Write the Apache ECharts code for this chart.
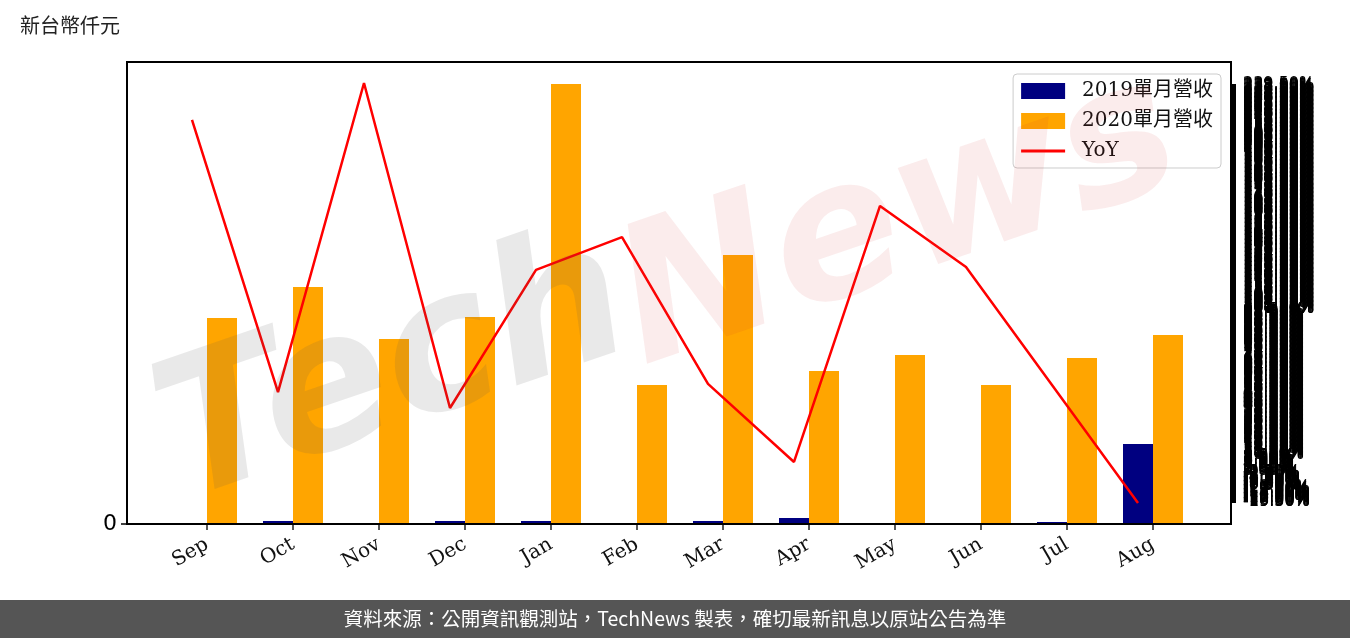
<!DOCTYPE html>
<html>
<head>
<meta charset="utf-8">
<script src="https://cdn.jsdelivr.net/npm/echarts@6/dist/echarts.min.js"></script>
<style>
html,body{margin:0;padding:0;background:#fff;}
#chart{width:1350px;height:638px;}
</style>
</head>
<body>
<div id="chart"></div>
<script>
// ---- data ----
var months = ['Sep','Oct','Nov','Dec','Jan','Feb','Mar','Apr','May','Jun','Jul','Aug'];
var rev2019 = [0, 300, 0, 300, 300, 0, 300, 600, 0, 0, 200, 8000];
var rev2020 = [20600, 23700, 18500, 20700, 44000, 13900, 26900, 15300, 16900, 13900, 16600, 18900];
var yoy = [217.1, 48.6, 240.0, 38.8, 124.3, 144.6, 53.7, 5.4, 163.9, 126.1, 53.0, -20.0];
var leftTickValues = [0];
var seriesNames = ['2019單月營收', '2020單月營收', 'YoY'];

// right-axis tick positions (the reference shows a dense, overlapping stack of labels)
var yoyTickValues = [];
for (var t = -20; t <= 240; t += 0.5) { yoyTickValues.push(t); }

var chart = echarts.init(document.getElementById('chart'), null, {renderer: 'canvas'});

var serif = "'DejaVu Serif', 'Liberation Serif', 'Noto Sans CJK TC', serif";
var sans = "'DejaVu Sans', 'Noto Sans CJK TC', sans-serif";

var option = {
  animation: false,
  backgroundColor: '#ffffff',
  grid: [
    {left: 164, right: 154, top: 62, bottom: 114},            // bars
    {left: 149, right: 169, top: 62, bottom: 114},            // YoY line
    {left: 127, right: 119, top: 62, bottom: 114, show: true, borderColor: '#000', borderWidth: 2, backgroundColor: 'transparent', z: 5} // frame
  ],
  legend: {
    orient: 'vertical',
    right: 129,
    top: 74,
    itemWidth: 44,
    itemHeight: 16,
    itemGap: 10,
    padding: [7, 8, 7, 8],
    borderColor: '#cccccc',
    borderWidth: 1,
    borderRadius: 4,
    backgroundColor: 'rgba(255,255,255,0.8)',
    textStyle: {fontFamily: serif, fontSize: 20, color: '#111', padding: [0, 0, 0, 12]},
    data: [
      {name: seriesNames[0], icon: 'rect'},
      {name: seriesNames[1], icon: 'rect'},
      {name: seriesNames[2], icon: 'path://M0,7 L44,7 L44,10 L0,10 Z'}
    ],
    z: 20
  },
  xAxis: [
    {
      type: 'category', gridIndex: 0, data: months,
      axisLine: {show: false},
      axisTick: {show: true, alignWithLabel: true, length: 6, lineStyle: {color: '#222', width: 1.5}},
      axisLabel: {rotate: 30, fontFamily: serif, fontSize: 20, color: '#111', margin: 19}
    },
    {type: 'category', gridIndex: 1, data: months, show: false},
    {type: 'value', gridIndex: 2, show: false, min: 0, max: 1}
  ],
  yAxis: [
    {
      type: 'value', gridIndex: 0, min: 0, max: 46200, position: 'left', offset: 37,
      splitLine: {show: false},
      axisLine: {show: false},
      axisTick: {show: true, length: 6, lineStyle: {color: '#000', width: 1.5}, customValues: leftTickValues},
      axisLabel: {customValues: leftTickValues, fontFamily: sans, fontSize: 22, color: '#000', margin: 10}
    },
    {
      type: 'value', gridIndex: 1, min: -33, max: 253, position: 'right', offset: 50,
      splitLine: {show: false},
      axisLine: {show: false},
      axisTick: {show: true, length: 5, lineStyle: {color: '#000', width: 1}, customValues: yoyTickValues},
      axisLabel: {
        customValues: yoyTickValues, fontFamily: sans, fontSize: 16, color: '#000', margin: 12,
        hideOverlap: false,
        formatter: function (v) { return v.toFixed(2) + '%'; }
      }
    },
    {type: 'value', gridIndex: 2, show: false, min: 0, max: 1}
  ],
  series: [
    {
      name: seriesNames[0], type: 'bar', xAxisIndex: 0, yAxisIndex: 0,
      data: rev2019, barWidth: 30, barGap: '0%',
      itemStyle: {color: '#000080'}
    },
    {
      name: seriesNames[1], type: 'bar', xAxisIndex: 0, yAxisIndex: 0,
      data: rev2020, barWidth: 30, barGap: '0%',
      itemStyle: {color: '#FFA500'}
    },
    {
      name: seriesNames[2], type: 'line', xAxisIndex: 1, yAxisIndex: 1,
      data: yoy, showSymbol: false, symbol: 'none',
      lineStyle: {color: '#FF0000', width: 2.5},
      itemStyle: {color: '#FF0000'}, z: 6
    }
  ],
  graphic: [
    {
      type: 'text', left: 20, top: 15,
      style: {text: '新台幣仟元', fontFamily: "'Noto Sans CJK TC', sans-serif", fontSize: 20, fill: '#222'}
    },
    {
      type: 'text', x: 395, y: 375, rotation: 0.33, z: 50, silent: true,
      style: {text: 'Tech', fontFamily: "'DejaVu Sans', sans-serif", fontStyle: 'italic', fontWeight: 'bold', fontSize: 190, fill: 'rgba(82,82,82,0.13)', align: 'center', verticalAlign: 'middle'}
    },
    {
      type: 'text', x: 900, y: 225, rotation: 0.33, z: 50, silent: true,
      style: {text: 'News', fontFamily: "'DejaVu Sans', sans-serif", fontStyle: 'italic', fontWeight: 'bold', fontSize: 190, fill: 'rgba(210,40,40,0.09)', align: 'center', verticalAlign: 'middle'}
    },
    {
      type: 'rect', left: 0, top: 600, z: 40,
      shape: {width: 1350, height: 38},
      style: {fill: '#555555'}
    },
    {
      type: 'text', x: 675, y: 619, z: 41,
      style: {text: '資料來源：公開資訊觀測站，TechNews 製表，確切最新訊息以原站公告為準', fontFamily: "'Noto Sans CJK TC', 'Open Sans', sans-serif", fontSize: 19.5, fill: '#ffffff', align: 'center', verticalAlign: 'middle'}
    }
  ]
};
chart.setOption(option);
</script>
</body>
</html>
